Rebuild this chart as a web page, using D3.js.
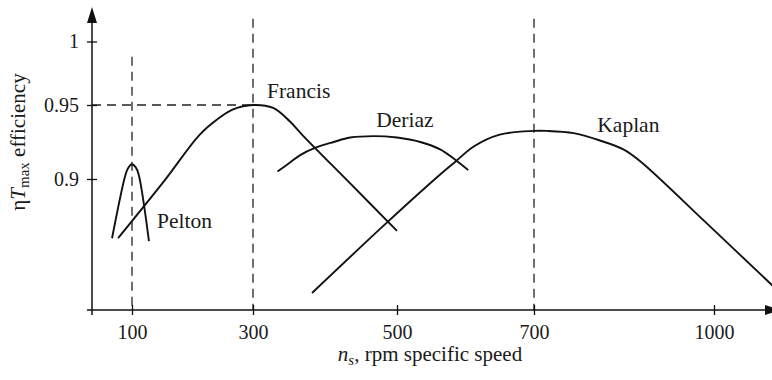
<!DOCTYPE html>
<html>
<head>
<meta charset="utf-8">
<script src="https://cdn.jsdelivr.net/npm/d3@7"></script>
<style>
  html, body { margin: 0; padding: 0; background: #fff; }
  svg { display: block; }
  text { font-family: "Liberation Serif", "Times New Roman", serif; fill: #1a1a1a; }
</style>
</head>
<body>
<svg id="chart" width="772" height="380"></svg>
<script>
// ---------------- data ----------------
const xTicks = [100, 300, 500, 700, 1000];
const yTicks = [0.9, 0.95, 1];
const yTickLabels = ["0.9", "0.95", "1"];
const seriesNames = ["Pelton", "Francis", "Deriaz", "Kaplan"];

const peltonX = [67, 88, 93, 100, 106, 111, 128];
const peltonY = [0.860, 0.901, 0.907, 0.910, 0.908, 0.903, 0.858];

const francisX = [77, 152, 212, 240, 267, 300, 328, 351, 370, 435, 500];
const francisY = [0.860, 0.898, 0.930, 0.940, 0.947, 0.950, 0.948, 0.939, 0.929, 0.897, 0.865];

const deriazX = [334, 351, 365, 386, 412, 435, 467, 500, 534, 563, 585, 604];
const deriazY = [0.905, 0.911, 0.916, 0.921, 0.925, 0.928, 0.929, 0.928, 0.925, 0.920, 0.913, 0.906];

const kaplanX = [382, 487, 563, 586, 612, 650, 699, 721, 766, 810, 849, 877, 988, 1100];
const kaplanY = [0.823, 0.871, 0.903, 0.912, 0.922, 0.930, 0.9325, 0.9325, 0.931, 0.926, 0.920, 0.912, 0.870, 0.827];

// reference (dashed) lines: vertical at these speeds, reaching up to these efficiencies
const refX = [100, 300, 700];
const refTop = [0.988, 1.018, 1.018];
const refH = 0.95; // horizontal dashed line level (Francis peak)

// ---------------- drawing ----------------
const svg = d3.select("#chart");
const x = d3.scaleLinear().domain(xTicks).range([132, 253, 397, 534, 714]);
const y = d3.scaleLinear().domain(yTicks).range([179, 105, 41.5]);

const axisY0 = 310;   // pixel y of x-axis
const axisX0 = 92;    // pixel x of y-axis

const series = [
  { name: seriesNames[0], xs: peltonX, ys: peltonY, dx: 25, dy: 64 },
  { name: seriesNames[1], xs: francisX, ys: francisY, dx: 14, dy: -7 },
  { name: seriesNames[2], xs: deriazX, ys: deriazY, dx: 3, dy: -9.5 },
  { name: seriesNames[3], xs: kaplanX, ys: kaplanY, dx: 64, dy: 1.5 }
];

// dashed reference lines
const dash = "9,6";
svg.append("g").selectAll("line").data(refX).join("line")
  .attr("x1", d => x(d)).attr("x2", d => x(d))
  .attr("y1", (d, i) => y(refTop[i])).attr("y2", axisY0)
  .attr("stroke", "#222").attr("stroke-width", 1.3).attr("stroke-dasharray", dash);
svg.append("line")
  .attr("x1", axisX0).attr("x2", x(300))
  .attr("y1", y(refH)).attr("y2", y(refH))
  .attr("stroke", "#222").attr("stroke-width", 1.3).attr("stroke-dasharray", dash);

// curves
const line = d3.line().x(d => x(d[0])).y(d => y(d[1])).curve(d3.curveCatmullRom.alpha(0.5));
const gC = svg.append("g");
series.forEach(s => {
  const pts = s.xs.map((v, i) => [v, s.ys[i]]);
  gC.append("path").attr("d", line(pts))
    .attr("fill", "none").attr("stroke", "#111").attr("stroke-width", 1.9)
    .attr("stroke-linejoin", "round");
  const iMax = d3.maxIndex(s.ys);
  gC.append("text")
    .attr("x", x(s.xs[iMax]) + s.dx)
    .attr("y", y(s.ys[iMax]) + s.dy)
    .attr("font-size", 21.5)
    .text(s.name);
});

// x axis
const xAxis = d3.axisBottom(x).tickValues(xTicks).tickFormat(d3.format("d")).tickSize(5);
const gx = svg.append("g").attr("transform", `translate(0,${axisY0})`).call(xAxis);
gx.select(".domain").remove();
gx.selectAll(".tick line").attr("y1", -5).attr("y2", 5).attr("stroke", "#111").attr("stroke-width", 1.3);
gx.selectAll(".tick text").attr("y", 29).attr("dy", 0).attr("font-size", 20)
  .attr("font-family", "Liberation Serif").attr("fill", "#1a1a1a");
svg.append("line").attr("x1", 87).attr("x2", 768).attr("y1", axisY0).attr("y2", axisY0)
  .attr("stroke", "#111").attr("stroke-width", 1.5);
svg.append("path").attr("d", `M765,${axisY0 - 5}L781,${axisY0}L765,${axisY0 + 5}Z`).attr("fill", "#111");

// y axis
const yAxis = d3.axisLeft(y).tickValues(yTicks).tickFormat((d, i) => yTickLabels[i]).tickSize(5);
const gy = svg.append("g").attr("transform", `translate(${axisX0},0)`).call(yAxis);
gy.select(".domain").remove();
gy.selectAll(".tick line").attr("x1", -5).attr("x2", 5).attr("stroke", "#111").attr("stroke-width", 1.3);
gy.selectAll(".tick text").attr("x", -13).attr("dy", "0.32em").attr("font-size", 20)
  .attr("font-family", "Liberation Serif").attr("fill", "#1a1a1a");
svg.append("line").attr("x1", axisX0).attr("x2", axisX0).attr("y1", 315).attr("y2", 20)
  .attr("stroke", "#111").attr("stroke-width", 1.5);
svg.append("path").attr("d", `M${axisX0 - 5},23L${axisX0},7L${axisX0 + 5},23Z`).attr("fill", "#111");

// axis titles
const xt = svg.append("text").attr("x", 430).attr("y", 361).attr("text-anchor", "middle").attr("font-size", 21);
xt.append("tspan").attr("font-style", "italic").text("n");
xt.append("tspan").attr("font-style", "italic").attr("font-size", 15).attr("dy", 4).text("s");
xt.append("tspan").attr("dy", -4).text(", rpm specific speed");

const yt = svg.append("text").attr("transform", "translate(25,142) rotate(-90)")
  .attr("text-anchor", "middle").attr("font-size", 21);
yt.append("tspan").text("η");
yt.append("tspan").attr("font-style", "italic").text("T");
yt.append("tspan").attr("font-size", 15).attr("dy", 4).text("max");
yt.append("tspan").attr("dy", -4).text(" efficiency");
</script>
</body>
</html>
